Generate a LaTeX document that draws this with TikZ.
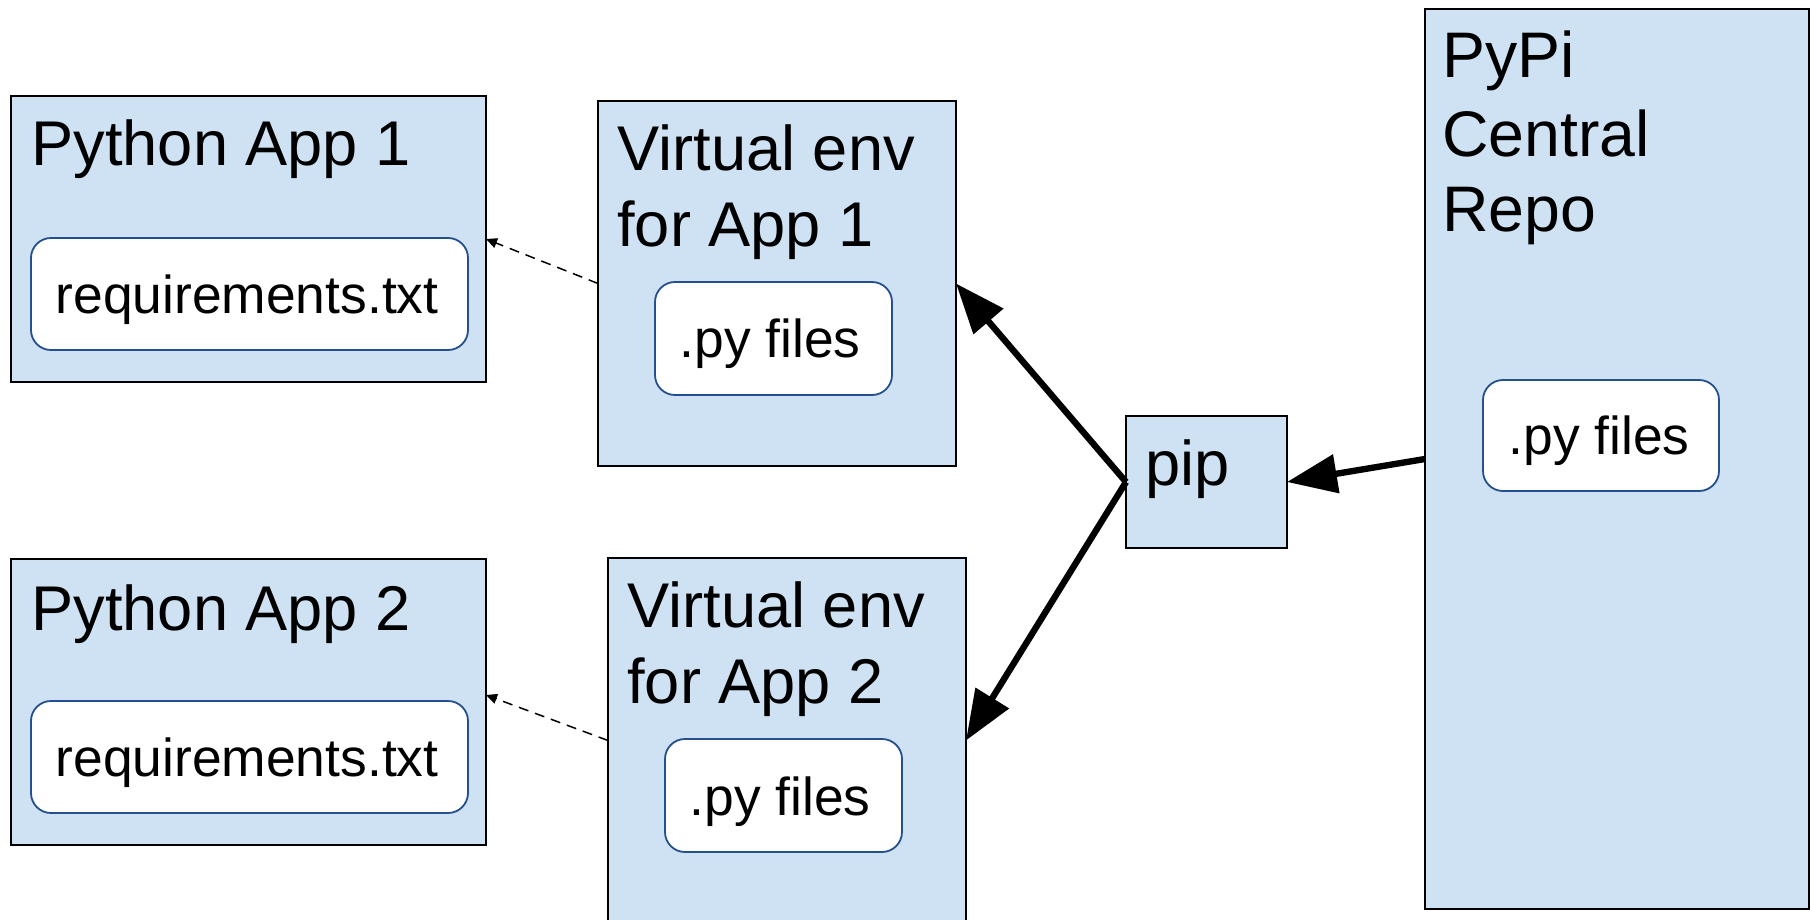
\documentclass[tikz,border=0pt]{standalone}
\usepackage{fontspec}
\setmainfont{Liberation Sans}
\usetikzlibrary{arrows.meta,calc}
\definecolor{boxblue}{HTML}{CFE2F3}
\definecolor{innerblue}{HTML}{24508C}
\begin{document}
\begin{tikzpicture}[x=0.5pt,y=-0.5pt,
  outerbox/.style={draw=black, line width=1pt, fill=boxblue, inner sep=0pt, outer sep=0pt, anchor=north west},
  innerbox/.style={draw=innerblue, line width=0.9pt, fill=white, rounded corners=10pt, inner sep=0pt, outer sep=0pt, anchor=north west},
  titletext/.style={font=\fontsize{31.6}{38.5}\selectfont, anchor=base west, inner sep=0pt},
  repotext/.style={font=\fontsize{32.2}{38.5}\selectfont, anchor=base west, inner sep=0pt},
  innertext/.style={font=\fontsize{26.7}{32}\selectfont, anchor=base, inner sep=0pt},
  bigarrow/.style={line width=3.2pt, -{Triangle[length=25pt,width=19pt]}},
  dasharrow/.style={line width=0.75pt, dash pattern=on 5pt off 3.5pt, -{Triangle[length=5.5pt,width=5pt]}}]
\clip (0,0) rectangle (1811,920);
\fill[white] (0,0) rectangle (1811,920);
% Python App 1
\node[outerbox, minimum width=237.5pt, minimum height=143pt] (app1) at (11,96) {};
\node[innerbox, minimum width=218.5pt, minimum height=56pt] (req1) at (31,238) {};
\node[titletext] (app1t) at (31,166) {Python App 1};
\node[innertext] (req1t) at (247,313) {requirements.txt};
% Python App 2
\node[outerbox, minimum width=237.5pt, minimum height=143pt] (app2) at (11,559) {};
\node[innerbox, minimum width=218.5pt, minimum height=56pt] (req2) at (31,701) {};
\node[titletext] (app2t) at (31,630) {Python App 2};
\node[innertext] (req2t) at (247,776) {requirements.txt};
% Virtual env 1
\node[outerbox, minimum width=179pt, minimum height=182.5pt] (venv1) at (598,101) {};
\node[innerbox, minimum width=118.5pt, minimum height=56.5pt] (pyf1) at (655,282) {};
\node[titletext] (venv1a) at (617,170) {Virtual env};
\node[titletext] (venv1b) at (617,247) {for App 1};
\node[innertext] (pyf1t) at (770,357) {.py files};
% Virtual env 2
\node[outerbox, minimum width=179pt, minimum height=182.5pt] (venv2) at (608,558) {};
\node[innerbox, minimum width=118.5pt, minimum height=56.5pt] (pyf2) at (665,739) {};
\node[titletext] (venv2a) at (627,627) {Virtual env};
\node[titletext] (venv2b) at (627,703) {for App 2};
\node[innertext] (pyf2t) at (780,815) {.py files};
% pip
\node[outerbox, minimum width=80.5pt, minimum height=66pt] (pip) at (1126,416) {};
\node[titletext] (pipt) at (1145,485) {pip};
% PyPi
\node[outerbox, minimum width=192pt, minimum height=450pt] (pypi) at (1425,9) {};
\node[innerbox, minimum width=118pt, minimum height=55.5pt] (pyf3) at (1483,380) {};
\node[repotext] (pypia) at (1442,78) {PyPi};
\node[repotext] (pypib) at (1442,156) {Central};
\node[repotext] (pypic) at (1442,232) {Repo};
\node[innertext] (pyf3t) at (1599,454) {.py files};
% connectors
\draw[dasharrow] (venv1.west) -- (app1.east);
\draw[dasharrow] (venv2.west) -- ([yshift=3.5pt]app2.east);
\draw[bigarrow] (pip.west) -- (venv1.east);
\draw[bigarrow] (pip.west) -- (venv2.east);
\draw[bigarrow] (pypi.west) -- (pip.east);
\end{tikzpicture}
\end{document}
